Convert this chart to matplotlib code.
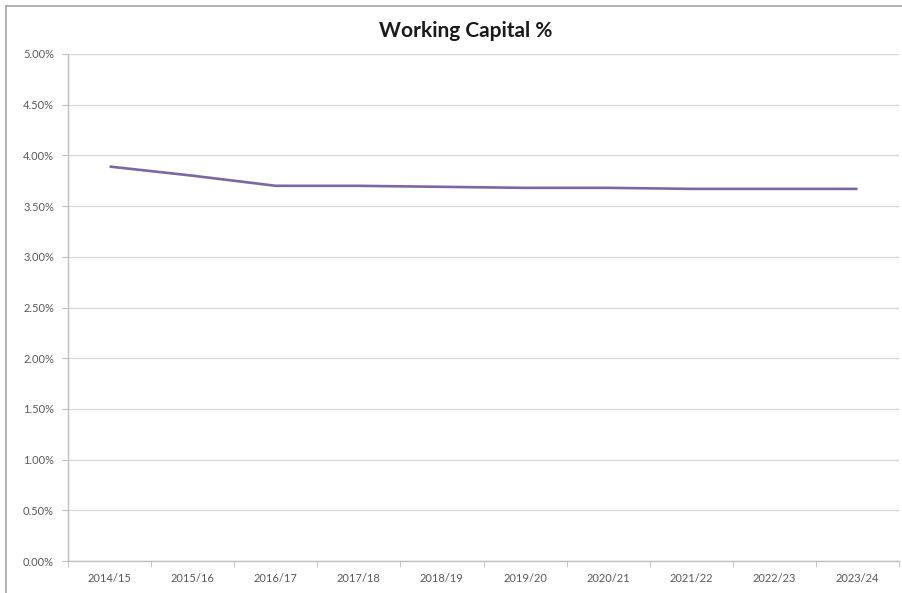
import numpy as np
import matplotlib.pyplot as plt
from matplotlib.lines import Line2D
from matplotlib.ticker import FixedLocator, PercentFormatter

years = ['2014/15', '2015/16', '2016/17', '2017/18', '2018/19',
         '2019/20', '2020/21', '2021/22', '2022/23', '2023/24']
working_capital = [3.89, 3.80, 3.70, 3.70, 3.69, 3.68, 3.68, 3.67, 3.67, 3.67]

plt.rcParams['font.family'] = ['Lato', 'DejaVu Sans']

fig = plt.figure(figsize=(9.03, 5.93), dpi=100)
ax = fig.add_axes([68/903, 1 - 561/593, 831/903, 507/593])

x = np.arange(len(years))
ax.plot(x, working_capital, color='#7d66a4', linewidth=1.9, solid_capstyle='butt')

ax.set_xlim(-0.5, len(years) - 0.5)
ax.set_ylim(0, 5)
ax.set_yticks(np.arange(0, 5.01, 0.5))
ax.yaxis.set_major_formatter(PercentFormatter(decimals=2))
ax.set_xticks(x)
ax.set_xticklabels(years)
ax.xaxis.set_minor_locator(FixedLocator(np.arange(-0.5, len(years), 1)))

ax.grid(axis='y', color='#d9d9d9', linewidth=1.0)
ax.set_axisbelow(True)
for side in ['top', 'right']:
    ax.spines[side].set_visible(False)
for side in ['left', 'bottom']:
    ax.spines[side].set_color('#bfbfbf')
    ax.spines[side].set_linewidth(1.0)

ax.tick_params(axis='y', length=4, color='#bfbfbf', labelsize=8, labelcolor='#595959', pad=6)
ax.tick_params(axis='x', which='major', length=0, labelsize=8, labelcolor='#595959', pad=9)
ax.tick_params(axis='x', which='minor', length=4, color='#bfbfbf')

fig.text(466/903, 1 - 31/593, 'Working Capital %', ha='center', va='center',
         fontsize=15, fontweight='bold', color='#1a1a1a')

# chart area border (top and left edges)
fig.add_artist(Line2D([6/903, 1], [1 - 6/593, 1 - 6/593], color='#a6a6a6', linewidth=1.2))
fig.add_artist(Line2D([6/903, 6/903], [0, 1 - 6/593], color='#a6a6a6', linewidth=1.2))

fig.savefig('out.png', dpi=100, facecolor='white')
